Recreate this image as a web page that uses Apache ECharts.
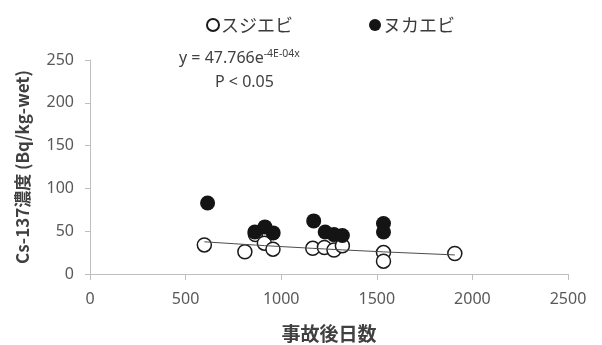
<!DOCTYPE html>
<html>
<head>
<meta charset="utf-8">
<script src="https://cdn.jsdelivr.net/npm/echarts@6/dist/echarts.min.js"></script>
<style>
  html, body { margin: 0; padding: 0; background: #fff; }
  #chart { width: 602px; height: 345px; }
</style>
</head>
<body>
<div id="chart"></div>
<script>
// スジエビ (open circles): days after the accident and Cs-137 concentration
const sujiebiDays = [598, 810, 865, 912, 957, 1165, 1226, 1276, 1320, 1535, 1535, 1908];
const sujiebiConc = [34, 26, 46, 36, 29, 30, 31, 28, 33, 25, 15, 24];

// ヌカエビ (filled circles)
const nukaebiDays = [615, 862, 915, 958, 1170, 1230, 1276, 1320, 1535, 1535];
const nukaebiConc = [83, 49, 55, 48, 62, 49, 46, 45, 59, 49];

// Exponential fit for スジエビ: y = A * e^(k x)
const fitA = 47.766;
const fitK = -4e-4;

// Axis ticks
const xTicks = [0, 500, 1000, 1500, 2000, 2500];
const yTicks = [0, 50, 100, 150, 200, 250];

const FONT = '"Noto Sans", "Noto Sans CJK JP", sans-serif';
const JFONT = '"Noto Sans CJK JP", "Noto Sans", sans-serif';

const pairs = (xs, ys) => xs.map((x, i) => [x, ys[i]]);
const trendXs = sujiebiDays.slice().sort((a, b) => a - b);
const trendData = trendXs.map(x => [x, fitA * Math.exp(fitK * x)]);

const chart = echarts.init(document.getElementById('chart'), null, { renderer: 'canvas' });
chart.setOption({
  animation: false,
  backgroundColor: '#fff',
  textStyle: { fontFamily: FONT },
  grid: { left: 90, right: 34, top: 60, bottom: 71, containLabel: false, outerBoundsMode: 'none' },
  legend: {
    left: 201, top: 11,
    itemWidth: 12, itemHeight: 12, itemGap: 76,
    icon: 'circle',
    textStyle: { fontFamily: JFONT, fontSize: 18, color: '#3a3a3a', padding: [0, 0, 0, -3] },
    data: ['スジエビ', 'ヌカエビ']
  },
  xAxis: {
    type: 'value',
    min: xTicks[0], max: xTicks[xTicks.length - 1], interval: 500,
    name: '事故後日数', nameLocation: 'middle', nameGap: 50,
    nameTextStyle: { fontFamily: JFONT, fontSize: 19, fontWeight: 'bold', color: '#404040' },
    axisLine: { show: true, lineStyle: { color: '#bfbfbf', width: 1 } },
    axisTick: { show: true, length: 6, lineStyle: { color: '#bfbfbf' } },
    axisLabel: { fontSize: 16, color: '#595959', margin: 17, fontFamily: FONT, formatter: v => String(v) },
    splitLine: { show: false }
  },
  yAxis: {
    type: 'value',
    min: yTicks[0], max: yTicks[yTicks.length - 1], interval: 50,
    name: 'Cs-137濃度 (Bq/kg-wet)', nameLocation: 'middle', nameGap: 59, nameRotate: 90,
    nameTextStyle: { fontFamily: JFONT, fontSize: 17, fontWeight: 'bold', color: '#404040' },
    axisLine: { show: true, lineStyle: { color: '#bfbfbf', width: 1 } },
    axisTick: { show: true, length: 5, lineStyle: { color: '#bfbfbf' } },
    axisLabel: { fontSize: 16, color: '#595959', margin: 16, fontFamily: FONT, formatter: v => String(v) },
    splitLine: { show: false }
  },
  series: [
    {
      name: 'スジエビ', type: 'scatter', z: 2,
      symbol: 'circle', symbolSize: 14,
      itemStyle: { color: '#ffffff', borderColor: '#1a1a1a', borderWidth: 1.5, opacity: 1 },
      data: pairs(sujiebiDays, sujiebiConc)
    },
    {
      name: 'ヌカエビ', type: 'scatter', z: 3,
      symbol: 'circle', symbolSize: 15,
      itemStyle: { color: '#141414', opacity: 1 },
      data: pairs(nukaebiDays, nukaebiConc)
    },
    {
      name: 'trend', type: 'line', z: 4,
      showSymbol: false, symbol: 'none', smooth: false,
      lineStyle: { color: '#4d4d4d', width: 1 },
      data: trendData,
      silent: true
    }
  ],
  graphic: [
    {
      type: 'text', left: 179, top: 49,
      style: {
        text: 'y = 47.766e{sup|-4E-04x}',
        fontFamily: FONT, fontSize: 16, fill: '#404040',
        rich: {
          sup: { fontSize: 10.5, fontFamily: FONT, fill: '#404040', padding: [0, 0, 8, 0] }
        }
      }
    },
    {
      type: 'text', left: 215, top: 74,
      style: { text: 'P < 0.05', fontFamily: FONT, fontSize: 16, fill: '#404040' }
    }
  ]
});
</script>
</body>
</html>
